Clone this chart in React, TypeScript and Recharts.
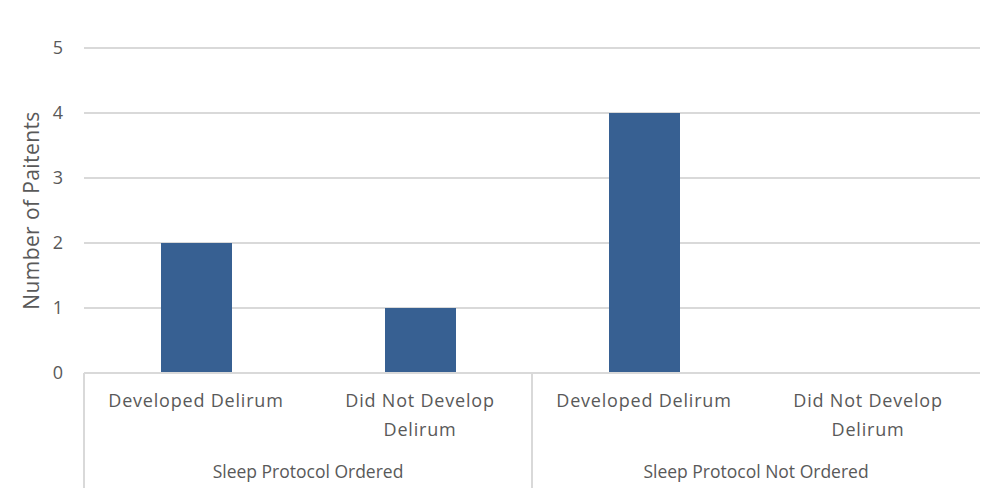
import { BarChart, Bar, XAxis, YAxis, CartesianGrid } from "recharts";

const categories = [
  "Developed Delirum",
  "Did Not Develop Delirum",
  "Developed Delirum",
  "Did Not Develop Delirum",
];
const groups = [
  "Sleep Protocol Ordered",
  "Sleep Protocol Ordered",
  "Sleep Protocol Not Ordered",
  "Sleep Protocol Not Ordered",
];
const patients = [2, 1, 4, 0];
const yTicks = [0, 1, 2, 3, 4, 5];

const chartData = categories.map((category, i) => ({
  category,
  group: groups[i],
  patients: patients[i],
}));

const W = 981;
const H = 504;
const margin = { top: 48, right: 1, bottom: 0, left: 0 };
const yAxisWidth = 84;
const textColor = "#595959";
const gridColor = "#d9d9d9";
const font = "'Open Sans', Lato, sans-serif";

// break long labels into lines of at most ~18 characters
function wrap(label: string, max = 18) {
  const lines: string[] = [];
  let cur = "";
  for (const w of label.split(" ")) {
    const next = cur ? cur + " " + w : w;
    if (next.length > max && cur) {
      lines.push(cur);
      cur = w;
    } else {
      cur = next;
    }
  }
  if (cur) lines.push(cur);
  return lines;
}

function CategoryTick(props: any) {
  const { x, y, payload, index } = props;
  const plotW = W - margin.left - margin.right - yAxisWidth;
  const half = payload?.offset || plotW / categories.length / 2;
  const firstOfGroup = index === 0 || groups[index] !== groups[index - 1];
  const lines = wrap(String(payload.value));
  return (
    <g>
      <text
        x={x}
        y={y + 34}
        textAnchor="middle"
        fontSize={18}
        letterSpacing={0.8}
        fontFamily={font}
        fill={textColor}
      >
        {lines.map((l, i) => (
          <tspan key={i} x={x} dy={i === 0 ? 0 : 29}>
            {l}
          </tspan>
        ))}
      </text>
      {firstOfGroup && (
        <>
          <line x1={x - half} y1={y} x2={x - half} y2={y + 115} stroke={gridColor} strokeWidth={2} />
          <text
            x={x + half}
            y={y + 105}
            textAnchor="middle"
            fontSize={17.5}
            fontFamily={font}
            fill={textColor}
          >
            {groups[index]}
          </text>
        </>
      )}
    </g>
  );
}

function YLabel(props: any) {
  const { viewBox } = props;
  const cx = (viewBox?.x ?? 0) + 31;
  const cy = (viewBox?.y ?? 48) + (viewBox?.height ?? 325) / 2;
  return (
    <text
      x={cx}
      y={cy}
      transform={`rotate(-90, ${cx}, ${cy})`}
      textAnchor="middle"
      dominantBaseline="central"
      fontSize={21}
      letterSpacing={0.4}
      fontFamily={font}
      fill={textColor}
    >
      Number of Paitents
    </text>
  );
}

export default function App() {
  return (
    <div style={{ position: "absolute", left: 0, top: 0, width: W, height: H, background: "#fff" }}>
      <BarChart width={W} height={H} data={chartData} margin={margin}>
        <CartesianGrid vertical={false} stroke={gridColor} strokeWidth={2} />
        <XAxis
          dataKey="category"
          height={131}
          interval={0}
          tickLine={false}
          tickSize={0}
          tickMargin={0}
          axisLine={{ stroke: gridColor, strokeWidth: 2 }}
          tick={<CategoryTick />}
        />
        <YAxis
          width={yAxisWidth}
          domain={[0, 5]}
          ticks={yTicks}
          axisLine={false}
          tickLine={false}
          tickMargin={15}
          tick={{ fontSize: 18, fontFamily: font, fill: textColor }}
          label={<YLabel />}
        />
        <Bar dataKey="patients" fill="#376092" barSize={71} isAnimationActive={false} />
      </BarChart>
    </div>
  );
}
